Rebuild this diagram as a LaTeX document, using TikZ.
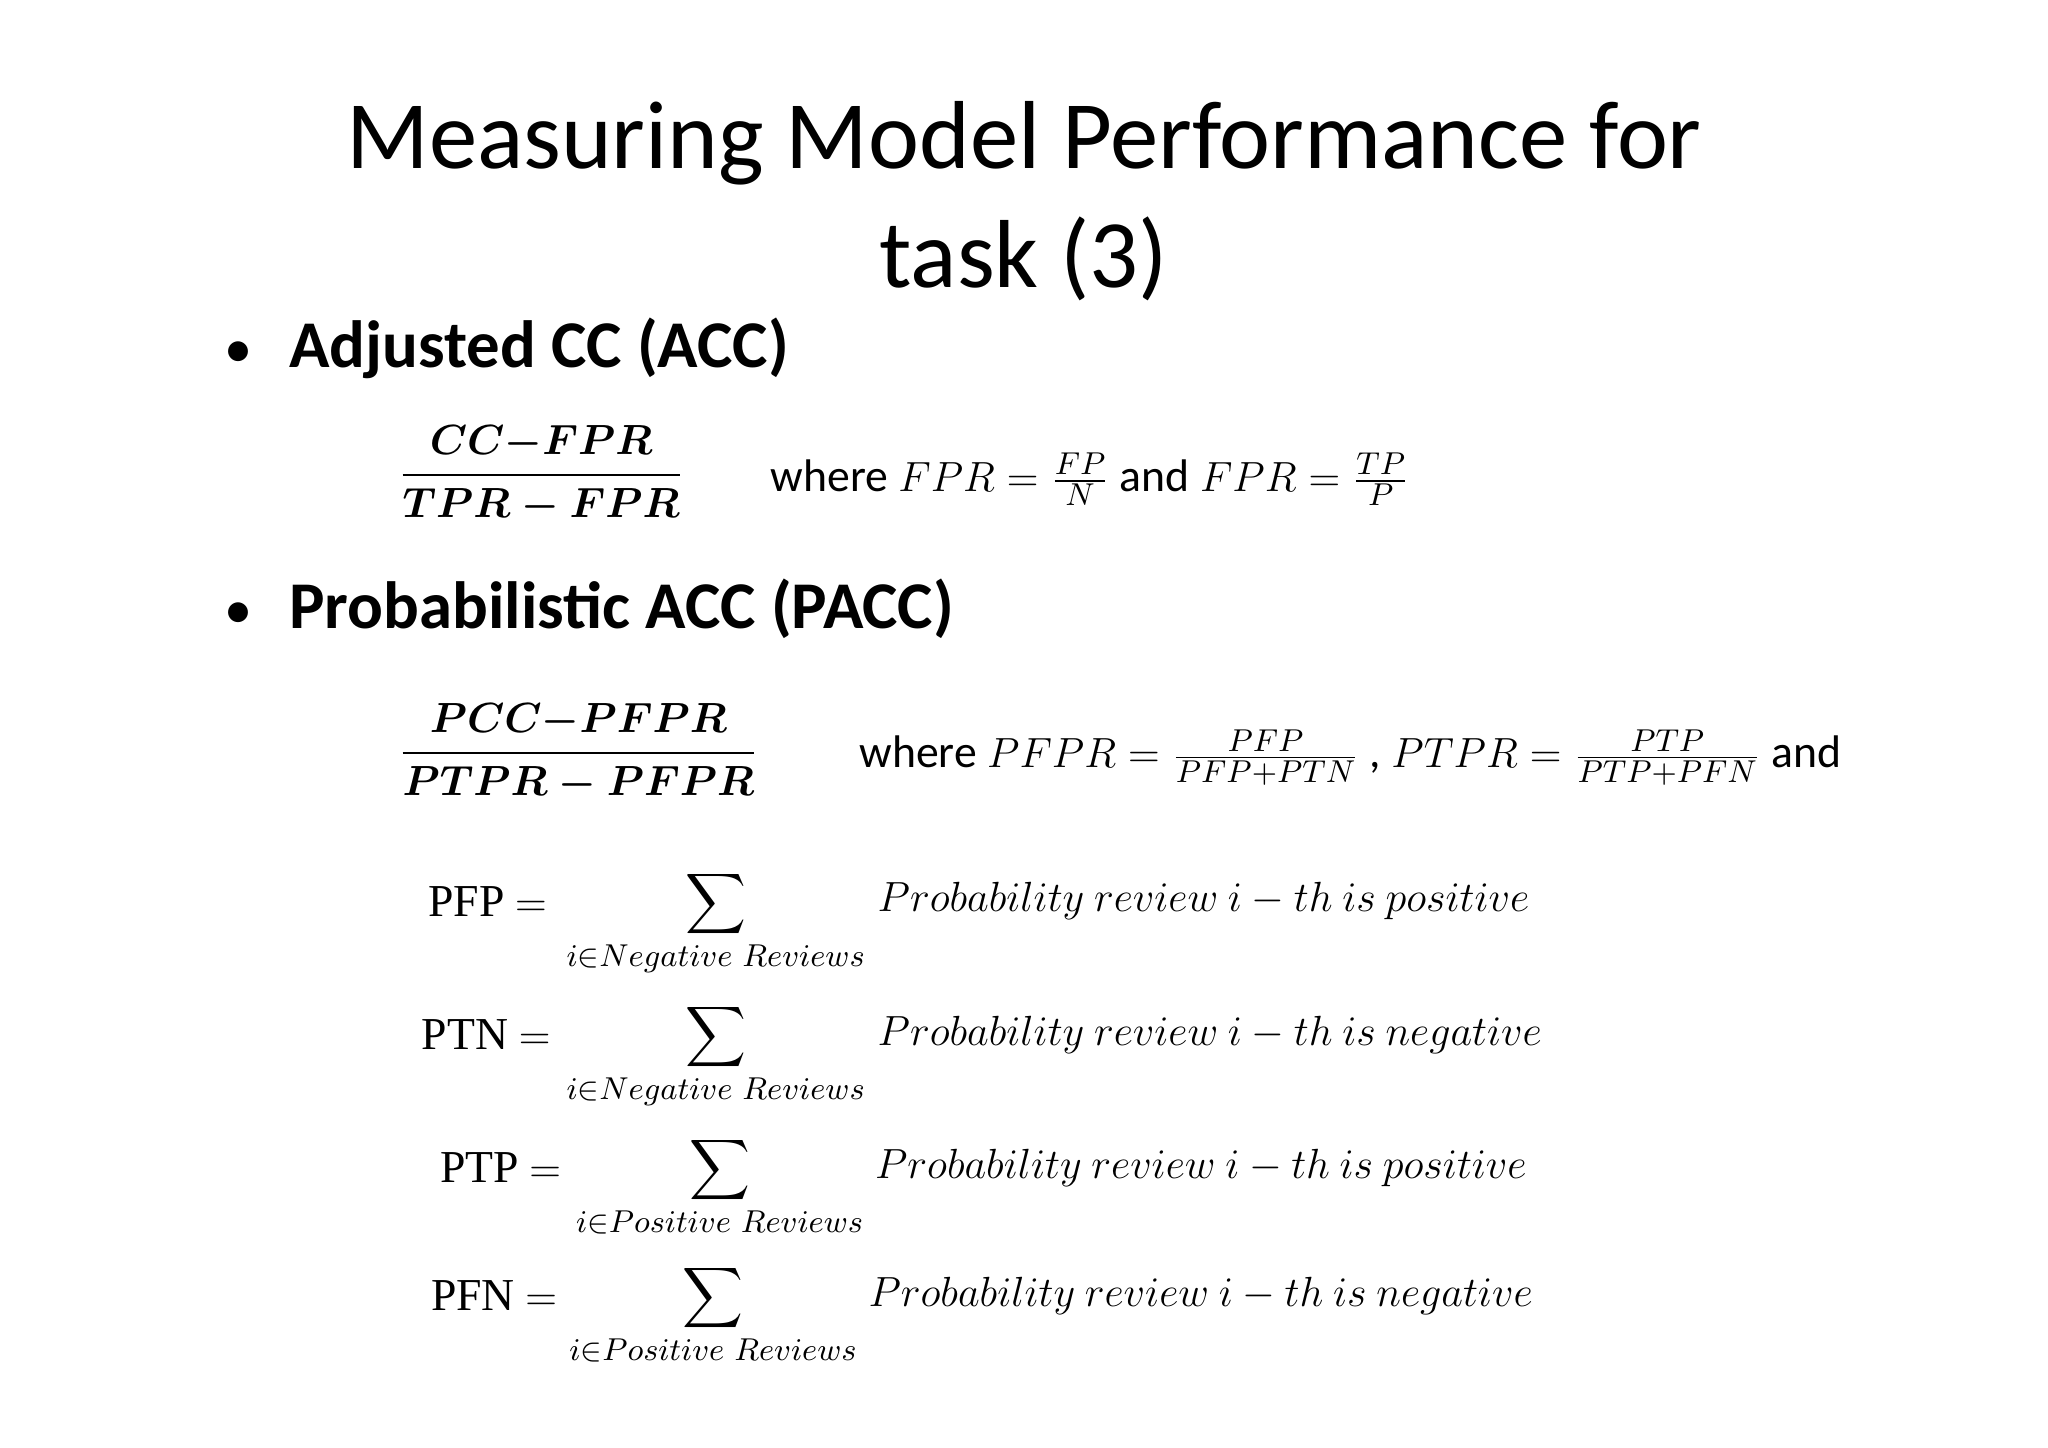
\documentclass[tikz,border=0pt]{standalone}
\usepackage{amsmath}
\usepackage{fontspec}
\setmainfont{Carlito}
\newfontfamily\serifrm{Liberation Serif}
\begin{document}
\begin{tikzpicture}[x=0.01306cm,y=-0.01306cm,
  every node/.style={inner sep=0pt,outer sep=0pt},
  ttl/.style={font=\fontsize{27.5}{33}\selectfont},
  bul/.style={font=\fontsize{19}{23}\selectfont\bfseries,anchor=west},
  txt/.style={font=\fontsize{13}{16}\selectfont,anchor=west},
  lab/.style={font=\fontsize{13}{16}\selectfont,anchor=west},
  sm/.style={font=\fontsize{12.5}{16}\selectfont},
  frac/.style={font=\fontsize{12}{16}\selectfont,anchor=west},
  eq/.style={font=\fontsize{12.3}{16}\selectfont,anchor=west}]
\useasboundingbox (0,0) rectangle (1568,1108);
\fill[white] (0,0) rectangle (1568,1108);
\node[ttl] (t1) at (784,110) {Measuring Model Performance for};
\node[ttl] (t2) at (784,198) {task (3)};
\node[bul] (b1) at (172,267) {{\mdseries\fontsize{16}{16}\selectfont •}\hspace{0.55em}Adjusted CC (ACC)};
\node[frac] (f1) at (305,363) {$\displaystyle\boldsymbol{\frac{CC{-}FPR}{TPR-FPR}}$};
\node[txt] (w1) at (590,367) {where $FPR=\frac{FP}{N}$ and $FPR=\frac{TP}{P}$};
\node[bul] (b2) at (172,466) {{\mdseries\fontsize{16}{16}\selectfont •}\hspace{0.55em}Probabilistic ACC (PACC)};
\node[frac] (f2) at (305,576) {$\displaystyle\boldsymbol{\frac{PCC{-}PFPR}{PTPR-PFPR}}$};
\node[txt] (w2) at (658,580) {where $PFPR=\frac{PFP}{PFP+PTN}$ , $PTPR=\frac{PTP}{PTP+PFN}$ and};
\node[lab] (l1) at (328,690) {{\serifrm PFP} $=$};
\node[sm,anchor=north] (m1) at (548,666) {$\displaystyle\sum_{i\in Negative\ Reviews}$};
\node[eq] (p1) at (672,690) {$Probability\ review\ i-th\ is\ positive$};
\node[lab] (l2) at (323,792) {{\serifrm PTN} $=$};
\node[sm,anchor=north] (m2) at (548,768) {$\displaystyle\sum_{i\in Negative\ Reviews}$};
\node[eq] (p2) at (672,792) {$Probability\ review\ i-th\ is\ negative$};
\node[lab] (l3) at (337,894) {{\serifrm PTP} $=$};
\node[sm,anchor=north] (m3) at (551,870) {$\displaystyle\sum_{i\in Positive\ Reviews}$};
\node[eq] (p3) at (670,894) {$Probability\ review\ i-th\ is\ positive$};
\node[lab] (l4) at (330,992) {{\serifrm PFN} $=$};
\node[sm,anchor=north] (m4) at (546,968) {$\displaystyle\sum_{i\in Positive\ Reviews}$};
\node[eq] (p4) at (665,992) {$Probability\ review\ i-th\ is\ negative$};
\end{tikzpicture}
\end{document}
